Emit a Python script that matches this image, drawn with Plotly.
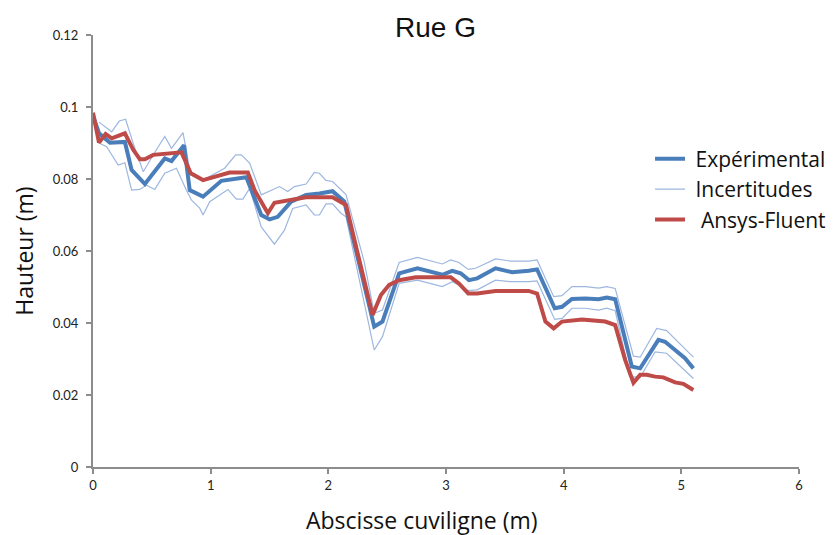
import plotly.graph_objects as go

# Experimental (blue thick)
exp_x = [0.0, 0.051, 0.144, 0.271, 0.328, 0.441, 0.610, 0.667, 0.774, 0.822, 0.935, 1.091, 1.303,
         1.430, 1.500, 1.570, 1.684, 1.811, 1.924, 2.036, 2.136, 2.390, 2.460, 2.602, 2.757, 2.969,
         3.053, 3.125, 3.195, 3.265, 3.421, 3.562, 3.703, 3.774, 3.924, 3.986, 4.070, 4.184, 4.297,
         4.367, 4.438, 4.579, 4.650, 4.805, 4.862, 4.947, 5.031, 5.102]
exp_y = [0.0975, 0.0927, 0.0901, 0.0903, 0.0825, 0.0786, 0.0857, 0.0850, 0.0894, 0.0769, 0.0751, 0.0795, 0.0805,
         0.0700, 0.0688, 0.0695, 0.0737, 0.0756, 0.0760, 0.0766, 0.0737, 0.0390, 0.0404, 0.0538, 0.0552, 0.0534,
         0.0545, 0.0538, 0.0519, 0.0524, 0.0552, 0.0541, 0.0545, 0.0549, 0.0441, 0.0445, 0.0467, 0.0468, 0.0466,
         0.0471, 0.0466, 0.0279, 0.0274, 0.0353, 0.0348, 0.0325, 0.0302, 0.0274]

# Upper uncertainty
up_x = [0.051, 0.159, 0.223, 0.277, 0.342, 0.427, 0.540, 0.610, 0.667, 0.765, 0.831, 0.935, 1.119,
        1.212, 1.260, 1.331, 1.430, 1.585, 1.655, 1.712, 1.811, 1.881, 1.924, 1.980, 2.036, 2.150,
        2.305, 2.390, 2.460, 2.602, 2.757, 2.969, 3.040, 3.110, 3.189, 3.252, 3.421, 3.548, 3.703,
        3.774, 3.915, 3.986, 4.070, 4.184, 4.297, 4.367, 4.438, 4.593, 4.650, 4.791, 4.875, 5.102]
up_y = [0.0958, 0.0931, 0.0961, 0.0966, 0.0899, 0.0820, 0.0882, 0.0918, 0.0885, 0.0929, 0.0811, 0.0797, 0.0830,
        0.0867, 0.0867, 0.0844, 0.0756, 0.0779, 0.0765, 0.0779, 0.0786, 0.0818, 0.0816, 0.0796, 0.0793, 0.0757,
        0.0570, 0.0427, 0.0436, 0.0568, 0.0582, 0.0564, 0.0575, 0.0568, 0.0549, 0.0552, 0.0578, 0.0572, 0.0572,
        0.0575, 0.0473, 0.0476, 0.0501, 0.0501, 0.0497, 0.0501, 0.0496, 0.0308, 0.0305, 0.0385, 0.0379, 0.0305]

# Lower uncertainty
lo_x = [0.051, 0.116, 0.214, 0.271, 0.328, 0.398, 0.455, 0.525, 0.610, 0.709, 0.794, 0.836, 0.907,
        0.935, 0.992, 1.147, 1.218, 1.274, 1.331, 1.430, 1.542, 1.627, 1.697, 1.811, 1.881, 1.924,
        1.980, 2.036, 2.107, 2.150, 2.390, 2.460, 2.602, 2.757, 2.969, 3.053, 3.189, 3.265, 3.421,
        3.548, 3.703, 3.774, 3.924, 3.986, 4.070, 4.184, 4.297, 4.367, 4.438, 4.565, 4.650, 4.777,
        4.875, 5.102]
lo_y = [0.0900, 0.0890, 0.0839, 0.0845, 0.0769, 0.0771, 0.0783, 0.0771, 0.0816, 0.0830, 0.0769, 0.0742, 0.0719,
        0.0700, 0.0737, 0.0771, 0.0744, 0.0744, 0.0774, 0.0667, 0.0619, 0.0658, 0.0718, 0.0728, 0.0700, 0.0700,
        0.0731, 0.0731, 0.0705, 0.0695, 0.0325, 0.0362, 0.0510, 0.0519, 0.0501, 0.0515, 0.0490, 0.0492, 0.0519,
        0.0515, 0.0515, 0.0517, 0.0410, 0.0413, 0.0441, 0.0441, 0.0436, 0.0441, 0.0434, 0.0251, 0.0249, 0.0320,
        0.0316, 0.0246]

# Ansys-Fluent (red)
cfd_x = [0.0, 0.051, 0.107, 0.159, 0.271, 0.342, 0.398, 0.441, 0.511, 0.610, 0.752, 0.831, 0.935, 1.161,
         1.316, 1.373, 1.486, 1.542, 1.726, 1.811, 2.036, 2.107, 2.150, 2.376, 2.447, 2.517, 2.602,
         2.743, 3.040, 3.110, 3.189, 3.265, 3.421, 3.703, 3.774, 3.845, 3.915, 3.986, 4.155, 4.353,
         4.438, 4.523, 4.593, 4.650, 4.706, 4.777, 4.847, 4.947, 5.017, 5.102]
cfd_y = [0.0984, 0.0901, 0.0925, 0.0913, 0.0927, 0.0881, 0.0855, 0.0855, 0.0867, 0.0871, 0.0874, 0.0816, 0.0797, 0.0818,
         0.0818, 0.0769, 0.0705, 0.0734, 0.0746, 0.0749, 0.0749, 0.0737, 0.0728, 0.0422, 0.0478, 0.0506, 0.0519,
         0.0527, 0.0527, 0.0510, 0.0482, 0.0482, 0.0489, 0.0489, 0.0482, 0.0404, 0.0385, 0.0404, 0.0410, 0.0404,
         0.0394, 0.0297, 0.0234, 0.0256, 0.0256, 0.0251, 0.0249, 0.0235, 0.0231, 0.0214]

x_ticks = [0, 1, 2, 3, 4, 5, 6]
y_ticks = [0, 0.02, 0.04, 0.06, 0.08, 0.1, 0.12]
y_tick_labels = ["0", "0.02", "0.04", "0.06", "0.08", "0.1", "0.12"]

BLUE = "#4A7EBB"
LIGHT = "#9DB7E0"
RED = "#BE4B48"
NB = "\u00a0"

fig = go.Figure()
fig.add_trace(go.Scatter(x=up_x, y=up_y, mode="lines", name=NB + "Incertitudes",
                         line=dict(color=LIGHT, width=1.2), legendrank=2, showlegend=True))
fig.add_trace(go.Scatter(x=lo_x, y=lo_y, mode="lines", name="Incertitudes",
                         line=dict(color=LIGHT, width=1.2), showlegend=False))
fig.add_trace(go.Scatter(x=exp_x, y=exp_y, mode="lines", name=NB + "Expérimental",
                         line=dict(color=BLUE, width=4), legendrank=1))
fig.add_trace(go.Scatter(x=cfd_x, y=cfd_y, mode="lines", name=NB + NB + "Ansys-Fluent",
                         line=dict(color=RED, width=4), legendrank=3))

axis_common = dict(showgrid=False, zeroline=False, showline=True, linecolor="#8C8C8C", linewidth=2,
                   ticks="outside", ticklen=5, tickwidth=1.5, tickcolor="#8C8C8C",
                   tickfont=dict(family="Lato, sans-serif", size=13, color="#222222"))

fig.update_layout(
    width=835, height=535,
    margin=dict(l=85, r=42, t=27, b=76),
    paper_bgcolor="white", plot_bgcolor="white",
    title=dict(text="Rue G", x=0.512, xanchor="center", y=0.965, yanchor="middle",
               font=dict(family="Liberation Sans, Arial, sans-serif", size=28, color="#111111")),
    xaxis=dict(range=[0, 6], tickvals=x_ticks, **axis_common),
    yaxis=dict(range=[0, 0.12], tickvals=y_ticks, ticktext=y_tick_labels, ticklabelstandoff=5,
               title=dict(text="Hauteur (m)", standoff=14,
                          font=dict(family="Open Sans, sans-serif", size=23, color="#111111")), **axis_common),
    legend=dict(x=0.789, y=0.760, xanchor="left", yanchor="top", bgcolor="rgba(0,0,0,0)",
                font=dict(family="Open Sans, sans-serif", size=21, color="#111111"),
                itemwidth=30, tracegroupgap=0),
    showlegend=True,
    annotations=[dict(text="Abscisse cuviligne (m)", xref="paper", yref="paper", x=0.466, y=-0.1227,
                      xanchor="center", yanchor="middle", showarrow=False,
                      font=dict(family="Open Sans, sans-serif", size=23, color="#111111"))],
)

fig.write_html("out.html")
